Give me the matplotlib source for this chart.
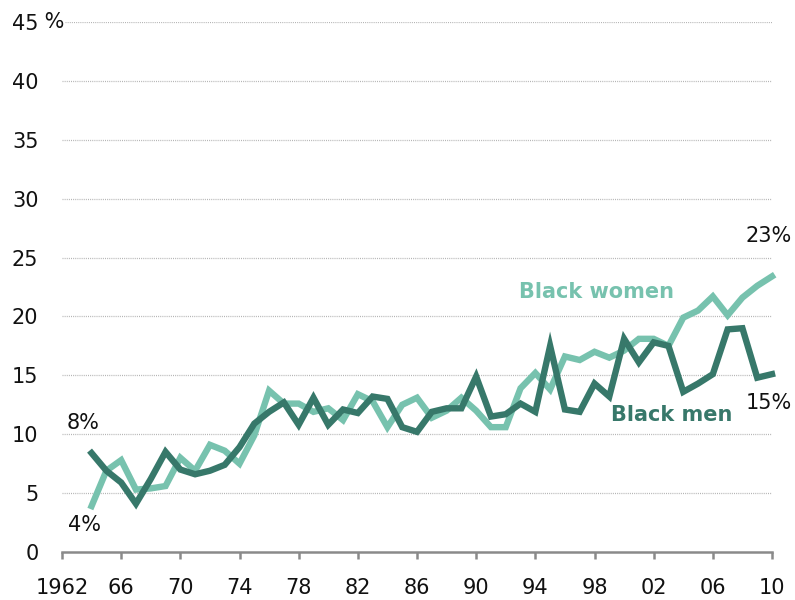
import matplotlib
matplotlib.use("Agg")
import matplotlib.pyplot as plt

years = list(range(1964, 2011))
black_men = [8.4, 6.9, 5.9, 4.1, 6.2, 8.5, 7.0, 6.6, 6.9, 7.4, 8.9,
             10.9, 11.9, 12.7, 10.8, 13.1, 10.8, 12.1, 11.8, 13.2, 13.0,
             10.6, 10.2, 11.9, 12.2, 12.2, 14.9, 11.5, 11.7, 12.6, 11.9,
             17.5, 12.1, 11.9, 14.3, 13.2, 18.1, 16.1, 17.8, 17.5, 13.6,
             14.3, 15.1, 18.9, 19.0, 14.8, 15.1]
black_women = [3.9, 6.9, 7.8, 5.3, 5.4, 5.6, 8.0, 6.9, 9.1, 8.6, 7.5,
               9.9, 13.7, 12.6, 12.6, 11.9, 12.2, 11.2, 13.4, 12.8, 10.6,
               12.5, 13.1, 11.4, 12.0, 13.1, 12.0, 10.6, 10.6, 13.9, 15.2,
               13.8, 16.6, 16.3, 17.0, 16.5, 17.1, 18.1, 18.1, 17.5, 19.9,
               20.5, 21.7, 20.1, 21.6, 22.6, 23.4]

xticks = [1962, 1966, 1970, 1974, 1978, 1982, 1986, 1990, 1994, 1998, 2002, 2006, 2010]
xtick_labels = ["1962", "66", "70", "74", "78", "82", "86", "90", "94", "98", "02", "06", "10"]
yticks = [0, 5, 10, 15, 20, 25, 30, 35, 40, 45]
ytick_labels = ["0", "5", "10", "15", "20", "25", "30", "35", "40", "45"]

dark = "#37786a"
light = "#77c2ae"

fig = plt.figure(figsize=(7.95, 6.0), dpi=100)
ax = fig.add_axes([62/795, 48/600, 710/795, 530/600])

ax.plot(years, black_women, color=light, lw=4.6, solid_joinstyle="miter", clip_on=False, zorder=3)
ax.plot(years, black_men, color=dark, lw=4.6, solid_joinstyle="miter", clip_on=False, zorder=4)

ax.set_xlim(1962, 2010)
ax.set_ylim(0, 45)

for s in ["top", "right", "left"]:
    ax.spines[s].set_visible(False)
ax.spines["bottom"].set_color("#8a8a8a")
ax.spines["bottom"].set_linewidth(1.8)

ax.set_xticks(xticks)
ax.set_xticklabels(xtick_labels)
ax.set_yticks(yticks)
ax.set_yticklabels(ytick_labels)
ax.tick_params(axis="x", direction="out", length=5, width=1.8, color="#8a8a8a",
               labelsize=15, pad=14, labelcolor="#111111")
ax.tick_params(axis="y", length=0, labelsize=15, pad=17, labelcolor="#111111")

for v in yticks[1:]:
    x0 = 0.004 if v == 45 else 0.0
    ax.axhline(v, xmin=x0, color="#b4b4b4", lw=0.9, ls=(0, (0.8, 0.9)), zorder=1)

ax.annotate(" %", xy=(0, 45), xycoords=("axes fraction", "data"),
            xytext=(-24, 0), textcoords="offset pixels", ha="left", va="center",
            fontsize=15, color="#111111")

ax.text(1963.45, 10.95, "8%", fontsize=15, ha="center", va="center", color="#111111")
ax.text(1963.5, 2.3, "4%", fontsize=15, ha="center", va="center", color="#111111")
ax.text(2009.8, 26.8, "23%", fontsize=15, ha="center", va="center", color="#111111")
ax.text(2009.8, 12.65, "15%", fontsize=15, ha="center", va="center", color="#111111")
ax.text(1998.15, 22.1, "Black women", fontsize=15, fontweight="bold", ha="center", va="center", color=light)
ax.text(2003.2, 11.6, "Black men", fontsize=15, fontweight="bold", ha="center", va="center", color=dark)

fig.savefig("out.png", dpi=100)
